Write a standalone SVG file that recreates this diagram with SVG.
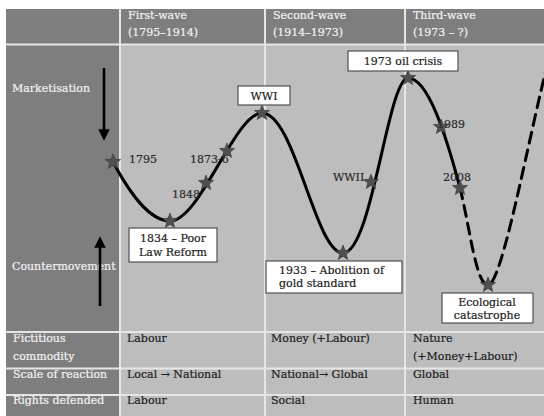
<svg xmlns="http://www.w3.org/2000/svg" width="544" height="416" viewBox="0 0 544 416">
<defs>
<style>
.t{font-family:"DejaVu Serif","Liberation Serif",serif;font-size:11px;fill:#1e1e1e;stroke:#1e1e1e;stroke-width:0.2}
.h{font-family:"DejaVu Serif","Liberation Serif",serif;font-size:11px;fill:#f2f2f2;stroke:#f2f2f2;stroke-width:0.2}
.lab{font-family:"DejaVu Serif","Liberation Serif",serif;font-size:11px;fill:#2a2a2a;stroke:#2a2a2a;stroke-width:0.2}
.box{fill:#ffffff;stroke:#505050;stroke-width:1.2}
.dark{fill:#7e7e7e}
.light{fill:#bdbdbd}
.sep{stroke:#e6e6e6;stroke-width:2}
.curve{fill:none;stroke:#000;stroke-width:3;stroke-linecap:round}
</style>
<marker id="ah" viewBox="0 0 10 10" refX="5" refY="5" markerWidth="4.4" markerHeight="4.4" orient="auto-start-reverse">
<path d="M0,0 L10,5 L0,10 z" fill="#000"/>
</marker>
<path id="star" d="M0,-8 L2,-2.76 L7.6,-2.47 L3.24,1.05 L4.7,6.47 L0,3.4 L-4.7,6.47 L-3.24,1.05 L-7.6,-2.47 L-2,-2.76 Z" fill="#505050" stroke="#333" stroke-width="0.6"/>
</defs>
<rect width="544" height="416" fill="#ffffff"/>
<g id="table">
<rect class="dark" x="6" y="9" width="538" height="35"/>
<rect class="dark" x="6" y="45" width="113" height="371"/>
<rect class="light" x="120" y="45" width="424" height="371"/>
<line class="sep" x1="6" y1="44.5" x2="544" y2="44.5"/>
<line class="sep" x1="120" y1="9" x2="120" y2="416"/>
<line class="sep" x1="265" y1="9" x2="265" y2="416" stroke-width="1.5"/>
<line class="sep" x1="405" y1="9" x2="405" y2="416" stroke-width="1.5"/>
<line class="sep" x1="6" y1="332" x2="544" y2="332" stroke-width="1.5"/>
<line class="sep" x1="6" y1="368.5" x2="544" y2="368.5" stroke-width="1.5"/>
<line class="sep" x1="6" y1="395" x2="544" y2="395" stroke-width="1.5"/>
<text class="h" x="128" y="19">First-wave</text>
<text class="h" x="128" y="36">(1795–1914)</text>
<text class="h" x="273" y="19">Second-wave</text>
<text class="h" x="273" y="36">(1914–1973)</text>
<text class="h" x="413" y="19">Third-wave</text>
<text class="h" x="413" y="36">(1973 – ?)</text>
<text class="h" x="12" y="92">Marketisation</text>
<text class="h" x="12" y="270">Countermovement</text>
<text class="h" x="13" y="342">Fictitious</text>
<text class="h" x="13" y="360">commodity</text>
<text class="h" x="13" y="378">Scale of reaction</text>
<text class="h" x="13" y="404">Rights defended</text>
<text class="t" x="127" y="342">Labour</text>
<text class="t" x="271" y="342">Money (+Labour)</text>
<text class="t" x="413" y="342">Nature</text>
<text class="t" x="413" y="360">(+Money+Labour)</text>
<text class="t" x="127" y="378">Local → National</text>
<text class="t" x="271" y="378">National→ Global</text>
<text class="t" x="413" y="378">Global</text>
<text class="t" x="127" y="404">Labour</text>
<text class="t" x="271" y="404">Social</text>
<text class="t" x="413" y="404">Human</text>
</g>
<g id="connectors">
<path class="curve" d="M113,162 C128,190 148,221 170,221 C200,221 235,113 262,113 C295,113 315,253 343,253 C372,253 388,78 408,78 C428,78 446,135 460,188"/>
<path class="curve" stroke-dasharray="11,7" stroke-linecap="butt" d="M460,188 C470,228 476,285 488,285 C502,285 528,140 548,62"/>
<line x1="104" y1="68" x2="104" y2="135" stroke="#000" stroke-width="2.6" marker-end="url(#ah)"/>
<line x1="100" y1="306" x2="100" y2="242" stroke="#000" stroke-width="2.6" marker-end="url(#ah)"/>
</g>
<g id="stars">
<use href="#star" x="113" y="162"/>
<use href="#star" x="170" y="221"/>
<use href="#star" x="206" y="183"/>
<use href="#star" x="227" y="151"/>
<use href="#star" x="262" y="113"/>
<use href="#star" x="343" y="253"/>
<use href="#star" x="371" y="182"/>
<use href="#star" x="408" y="78"/>
<use href="#star" x="441" y="127"/>
<use href="#star" x="460" y="188"/>
<use href="#star" x="488" y="285"/>
</g>
<g id="point-labels">
<text class="lab" x="129" y="163">1795</text>
<text class="lab" x="190" y="163">1873-6</text>
<text class="lab" x="172" y="198">1848</text>
<text class="lab" x="333" y="181">WWII</text>
<text class="lab" x="437" y="128">1989</text>
<text class="lab" x="443" y="181">2008</text>
</g>
<g id="node-wwi">
<rect class="box" x="238" y="86" width="52" height="19"/>
<text class="t" x="264" y="100" text-anchor="middle">WWI</text>
</g>
<g id="node-oil">
<rect class="box" x="348" y="51" width="110" height="20"/>
<text class="t" x="403" y="65" text-anchor="middle">1973 oil crisis</text>
</g>
<g id="node-1834">
<rect class="box" x="129" y="228" width="88" height="34"/>
<text class="t" x="173" y="242" text-anchor="middle">1834 – Poor</text>
<text class="t" x="173" y="256" text-anchor="middle">Law Reform</text>
</g>
<g id="node-1933">
<rect class="box" x="266" y="261" width="136" height="32"/>
<text class="t" x="279" y="274">1933 – Abolition of</text>
<text class="t" x="279" y="287">gold standard</text>
</g>
<g id="node-eco">
<rect class="box" x="442" y="293" width="91" height="30"/>
<text class="t" x="487" y="306" text-anchor="middle">Ecological</text>
<text class="t" x="487" y="319" text-anchor="middle">catastrophe</text>
</g>
</svg>
